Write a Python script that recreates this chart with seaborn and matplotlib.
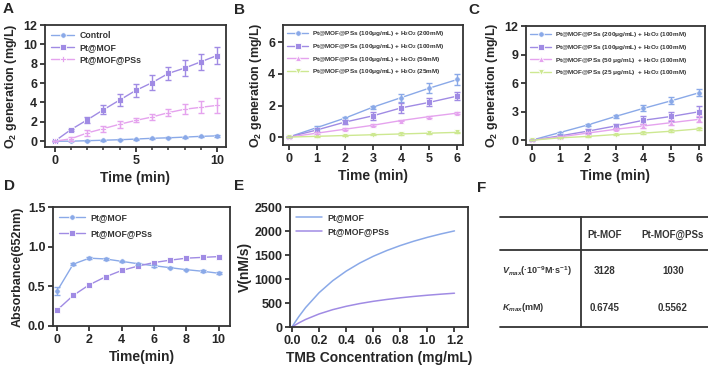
import numpy as np
import pandas as pd
import matplotlib
matplotlib.use("Agg")
import matplotlib.pyplot as plt
import seaborn as sns
from matplotlib.ticker import MultipleLocator

sns.set_style("ticks")
plt.rcParams['font.family'] = ['Liberation Sans', 'DejaVu Sans']
plt.rcParams['font.weight'] = 'bold'
plt.rcParams['axes.labelweight'] = 'bold'
plt.rcParams['mathtext.fontset'] = 'custom'
plt.rcParams['mathtext.rm'] = 'Liberation Sans:bold'
plt.rcParams['mathtext.bf'] = 'Liberation Sans:bold'
plt.rcParams['mathtext.it'] = 'Liberation Sans:bold:italic'

BLUE = '#8aa9e8'
PURPLE = '#a08be4'
PINK = '#e5a3ee'
GREEN = '#cde891'

# ---- A ----
t_a = list(range(11))
a_names = ['Control', 'Pt@MOF', 'Pt@MOF@PSs']
a_ctrl = [0, 0.0, 0.05, 0.1, 0.15, 0.22, 0.3, 0.35, 0.42, 0.5, 0.55]
a_ctrl_err = [0, 0.03, 0.03, 0.04, 0.04, 0.05, 0.05, 0.05, 0.06, 0.06, 0.07]
a_mof = [0, 1.2, 2.2, 3.25, 4.25, 5.25, 6.05, 7.0, 7.55, 8.2, 8.85]
a_mof_err = [0, 0.1, 0.35, 0.45, 0.6, 0.7, 0.8, 0.7, 0.85, 0.85, 0.9]
a_pss = [0, 0.25, 0.85, 1.3, 1.75, 2.15, 2.5, 2.95, 3.3, 3.5, 3.7]
a_pss_err = [0, 0.2, 0.3, 0.3, 0.35, 0.2, 0.35, 0.35, 0.5, 0.6, 0.75]

# ---- B ----
t_b = list(range(7))
b_names = ['Pt@MOF@PSs (100μg/mL) + H$_2$O$_2$ (200mM)',
           'Pt@MOF@PSs (100μg/mL) + H$_2$O$_2$ (100mM)',
           'Pt@MOF@PSs (100μg/mL) + H$_2$O$_2$ (50mM)',
           'Pt@MOF@PSs (100μg/mL) + H$_2$O$_2$ (25mM)']
b_200 = [0, 0.6, 1.2, 1.9, 2.5, 3.1, 3.65]
b_200_err = [0, 0.1, 0.1, 0.1, 0.25, 0.3, 0.35]
b_100 = [0, 0.45, 0.95, 1.35, 1.85, 2.2, 2.6]
b_100_err = [0, 0.1, 0.15, 0.25, 0.3, 0.25, 0.25]
b_50 = [0, 0.25, 0.5, 0.75, 1.05, 1.3, 1.52]
b_50_err = [0, 0.05, 0.05, 0.05, 0.06, 0.06, 0.07]
b_25 = [0, 0.05, 0.1, 0.15, 0.2, 0.25, 0.3]
b_25_err = [0, 0.03, 0.03, 0.03, 0.04, 0.04, 0.04]

# ---- C ----
c_names = ['Pt@MOF@PSs (200μg/mL) + H$_2$O$_2$ (100mM)',
           'Pt@MOF@PSs (100μg/mL) + H$_2$O$_2$ (100mM)',
           'Pt@MOF@PSs (50 μg/mL)  + H$_2$O$_2$ (100mM)',
           'Pt@MOF@PSs (25 μg/mL)  + H$_2$O$_2$ (100mM)']
c_200 = [0, 0.8, 1.6, 2.5, 3.35, 4.15, 5.0]
c_200_err = [0, 0.1, 0.15, 0.15, 0.3, 0.35, 0.4]
c_100 = [0, 0.45, 0.95, 1.5, 2.1, 2.5, 3.0]
c_100_err = [0, 0.15, 0.2, 0.25, 0.4, 0.5, 0.6]
c_50 = [0, 0.35, 0.75, 1.15, 1.5, 1.85, 2.2]
c_50_err = [0, 0.1, 0.1, 0.1, 0.2, 0.25, 0.3]
c_25 = [0, 0.25, 0.4, 0.6, 0.75, 0.95, 1.2]
c_25_err = [0, 0.05, 0.05, 0.06, 0.08, 0.08, 0.1]

# ---- D ----
d_names = ['Pt@MOF', 'Pt@MOF@PSs']
d_mof = [0.44, 0.78, 0.855, 0.845, 0.815, 0.785, 0.76, 0.735, 0.71, 0.69, 0.665]
d_mof_err = [0.05, 0.01, 0.01, 0.01, 0.01, 0.01, 0.01, 0.01, 0.01, 0.01, 0.01]
d_pss = [0.2, 0.385, 0.52, 0.62, 0.70, 0.755, 0.80, 0.83, 0.855, 0.865, 0.875]

# ---- E ----
tmb = [0, 0.02, 0.05, 0.1, 0.2, 0.3, 0.4, 0.5, 0.6, 0.7, 0.8, 0.9, 1.0, 1.1, 1.2]
e_mof = [0, 90, 216, 404, 715, 963, 1164, 1332, 1473, 1593, 1697, 1788, 1868, 1939, 2002]
e_pss = [0, 36, 85, 157, 272, 361, 431, 488, 535, 574, 608, 637, 662, 684, 704]

# ---- F ----
f_cols = ['Pt-MOF', 'Pt-MOF@PSs']
f_rows = [r'$V_{max}$(·10$^{-9}$M·s$^{-1}$)', r'$K_{max}$(mM)']
f_vals = [['3128', '1030'], ['0.6745', '0.5562']]

W, H = 708, 366
fig = plt.figure(figsize=(W / 100, H / 100), dpi=100)


def add_ax(l, r, t, b):
    return fig.add_axes([l / W, 1 - b / H, (r - l) / W, (b - t) / H])


def style_ax(ax):
    for s in ax.spines.values():
        s.set_linewidth(1.3)
        s.set_color('#333333')
    ax.tick_params(width=1.3, length=3.5, labelsize=9, color='#333333', pad=2)
    ax.tick_params(which='minor', width=1.1, length=2.5, color='#333333')
    for lab in ax.get_xticklabels() + ax.get_yticklabels():
        lab.set_fontweight('bold')


def curves(ax, x, ys, errs, names, colors, markers, msize=4):
    frames = []
    for y, n in zip(ys, names):
        frames.append(pd.DataFrame({'x': x, 'y': y, 'name': n}))
    df = pd.concat(frames)
    sns.lineplot(data=df, x='x', y='y', hue='name', style='name',
                 palette=dict(zip(names, colors)), markers=dict(zip(names, markers)),
                 dashes=False, linewidth=1.0, markersize=msize,
                 markeredgewidth=0.6, ax=ax)
    for y, e, c in zip(ys, errs, colors):
        if e is not None:
            ax.errorbar(x, y, yerr=e, fmt='none', ecolor=c, elinewidth=1.0,
                        capsize=2, capthick=1.0)


def legend(ax, fs, hl=2.0, sp=0.3):
    leg = ax.legend(loc='upper left', frameon=False, fontsize=fs,
                    handlelength=hl, labelspacing=sp, borderaxespad=0.3,
                    handletextpad=0.6)
    for txt in leg.get_texts():
        txt.set_color('#333333')
        txt.set_fontweight('bold')


# A
ax = add_ax(45, 226, 25, 147)
curves(ax, t_a, [a_ctrl, a_mof, a_pss], [a_ctrl_err, a_mof_err, a_pss_err],
       a_names, [BLUE, PURPLE, PINK], ['o', 's', 'P'])
ax.set_xlim(-0.6, 10.55)
ax.set_ylim(-0.6, 12)
ax.set_xticks([0, 5, 10])
ax.xaxis.set_minor_locator(MultipleLocator(1))
ax.set_yticks(range(0, 13, 2))
ax.set_xlabel('Time (min)', fontsize=10, labelpad=3)
ax.set_ylabel('O$_2$ generation (mg/L)', fontsize=9, labelpad=3)
legend(ax, 6.3, hl=2.6, sp=0.35)
style_ax(ax)

# B
ax = add_ax(283, 463, 25, 145)
curves(ax, t_b, [b_200, b_100, b_50, b_25], [b_200_err, b_100_err, b_50_err, b_25_err],
       b_names, [BLUE, PURPLE, PINK, GREEN], ['o', 's', '^', 'v'])
ax.set_xlim(-0.2, 6.2)
ax.set_ylim(-0.5, 7.1)
ax.set_xticks(range(7))
ax.set_yticks([0, 2, 4, 6])
ax.set_xlabel('Time (min)', fontsize=10, labelpad=3)
ax.set_ylabel('O$_2$ generation (mg/L)', fontsize=9, labelpad=3)
legend(ax, 4.6, hl=3.2, sp=0.55)
style_ax(ax)

# C
ax = add_ax(526, 705, 26, 145)
curves(ax, t_b, [c_200, c_100, c_50, c_25], [c_200_err, c_100_err, c_50_err, c_25_err],
       c_names, [BLUE, PURPLE, PINK, GREEN], ['o', 's', '^', 'v'])
ax.set_xlim(-0.2, 6.2)
ax.set_ylim(-0.5, 12)
ax.set_xticks(range(7))
ax.set_yticks([0, 3, 6, 9, 12])
ax.set_xlabel('Time (min)', fontsize=10, labelpad=3)
ax.set_ylabel('O$_2$ generation (mg/L)', fontsize=9, labelpad=3)
legend(ax, 4.6, hl=3.2, sp=0.55)
style_ax(ax)

# D
ax = add_ax(53, 230, 207, 326)
curves(ax, t_a, [d_mof, d_pss], [d_mof_err, None], d_names,
       [BLUE, PURPLE], ['o', 's'])
ax.set_xlim(-0.25, 10.7)
ax.set_ylim(0, 1.5)
ax.set_xticks(range(0, 11, 2))
ax.set_yticks([0, 0.5, 1.0, 1.5])
ax.set_yticklabels(['0.0', '0.5', '1.0', '1.5'])
ax.set_xlabel('Time(min)', fontsize=10, labelpad=3)
ax.set_ylabel('Absorbance(652nm)', fontsize=9, labelpad=3)
legend(ax, 6.3, hl=3.0, sp=0.8)
style_ax(ax)

# E
ax = add_ax(290, 468, 207, 327)
edf = pd.concat([pd.DataFrame({'x': tmb, 'y': e_mof, 'name': 'Pt@MOF'}),
                 pd.DataFrame({'x': tmb, 'y': e_pss, 'name': 'Pt@MOF@PSs'})])
sns.lineplot(data=edf, x='x', y='y', hue='name',
             palette={'Pt@MOF': BLUE, 'Pt@MOF@PSs': PURPLE}, linewidth=1.1, ax=ax)
ax.set_xlim(-0.015, 1.3)
ax.set_ylim(0, 2500)
ax.set_xticks(np.round(np.arange(0, 1.21, 0.2), 1))
ax.set_xticklabels(['0.0', '0.2', '0.4', '0.6', '0.8', '1.0', '1.2'])
ax.set_yticks(range(0, 2501, 500))
ax.set_xlabel('TMB Concentration (mg/mL)', fontsize=10, labelpad=3)
ax.set_ylabel('V(nM/s)', fontsize=10, labelpad=2)
legend(ax, 6.3, hl=3.0, sp=0.6)
style_ax(ax)

# F table
ax = fig.add_axes([0, 0, 1, 1])
ax.set_xlim(0, W)
ax.set_ylim(H, 0)
ax.axis('off')
for yy in [217, 250, 327]:
    ax.plot([500, 708], [yy, yy], color='#333333', lw=1.3)
ax.plot([581, 581], [217, 327], color='#333333', lw=1.3)
for c, xx in zip(f_cols, [605, 673]):
    ax.text(xx, 235, c, ha='center', va='center', fontsize=7, color='#333333')
for i, yy in enumerate([271, 308]):
    ax.text(502, yy, f_rows[i], ha='left', va='center', fontsize=6.5, color='#333333')
    for j, xx in enumerate([605, 673]):
        ax.text(xx, yy, f_vals[i][j], ha='center', va='center', fontsize=7, color='#333333')

# panel letters
for lab, x, y in [('A', 3, 9), ('B', 234, 10), ('C', 468, 10),
                  ('D', 4, 186), ('E', 234, 186), ('F', 477, 188)]:
    ax.text(x, y, lab, fontsize=11, fontweight='bold', ha='left', va='center')

fig.savefig('out.png', dpi=100)
